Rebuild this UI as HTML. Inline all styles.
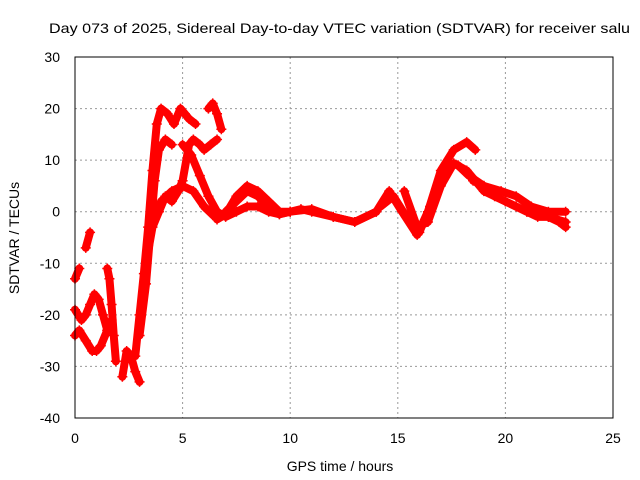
<!DOCTYPE html>
<html><head><meta charset="utf-8"><style>
body{margin:0;background:#fff}
svg{display:block;font-family:"Liberation Sans",sans-serif}
</style></head><body>
<svg id="chart" width="640" height="480" viewBox="0 0 640 480">
<rect width="640" height="480" fill="#fff"/>
<text x="49" y="33" font-size="14" textLength="581" lengthAdjust="spacingAndGlyphs">Day 073 of 2025, Sidereal Day-to-day VTEC variation (SDTVAR) for receiver salu</text>
<g id="grid"></g>
<g id="ticks"></g>
<g id="series"></g>
<rect x="75" y="57" width="538" height="361" fill="none" stroke="#000" stroke-width="1"/>
<text x="340" y="471" font-size="14" text-anchor="middle">GPS time / hours</text>
<text x="0" y="0" font-size="14" text-anchor="middle" transform="translate(19,238) rotate(-90)">SDTVAR / TECUs</text>
</svg>
<script>
const xTicks=[0,5,10,15,20,25];
const yTicks=[-40,-30,-20,-10,0,10,20,30];
const s1T=[0.0,0.2,0.5,0.8,1.0,1.2,1.5,1.7];
const s1V=[-24,-23,-25,-27,-27,-26,-23,-21];
const s2T=[0.0,0.3,0.5,0.7,0.9,1.1,1.3,1.5];
const s2V=[-19,-21,-20,-18,-16,-17,-20,-23];
const s3T=[0.0,0.2];
const s3V=[-13,-11];
const s4T=[0.5,0.7];
const s4V=[-7,-4];
const s5T=[1.5,1.6,1.7,1.8,1.9];
const s5V=[-11,-13,-18,-24,-29];
const s6T=[2.2,2.4,2.6,2.8,3.0];
const s6V=[-32,-27,-28,-31,-33];
const s7T=[2.8,3.0,3.2,3.4,3.6,3.8,4.0,4.3,4.6,4.9,5.1,5.3,5.6];
const s7V=[-28,-20,-12,-3,8,17,20,19,17,20,19,18,17];
const s8T=[3.3,3.6,3.9,4.2,4.5,4.8,5.0,5.3,5.5,5.8,6.0,6.3,6.6];
const s8V=[-10,-3,0,3,2,4,6,13,14,13,12,13,14];
const s9T=[5.0,5.4,5.8,6.2,6.6,7.0,7.5,8.0,8.5,9.0,9.5,10.0];
const s9V=[13,11,7,3,0,-1,0,1,1,0,-0.5,0];
const s10T=[6.2,6.4,6.6,6.8];
const s10V=[20,21,19,16];
const s11T=[3.8,4.0,4.5,5.0,5.5,6.0,6.5];
const s11V=[0,2,4,5,4,1,-1];
const s12T=[6.6,7.0,7.5,8.0,8.5,9.0,9.5,10.0,11.0,12.0,13.0,14.0,14.6,15.2,15.9,16.4,17.0,17.6,18.2,18.6];
const s12V=[-1.5,-0.5,3,5,4,2,0,0,0.5,-1,-2,0,4,0,-4.5,0,8,12,13.5,12];
const s13T=[15.3,15.9,16.4,17.0,17.6,18.2,19.0,20.0,21.0,22.0,22.8];
const s13V=[4,-3,-2,5,9.4,8,4,2,0,-1,-2];
const s14T=[7.0,7.5,8.0,8.5,9.0,9.5,10.0,10.5,11.0,12.0,13.0,14.0];
const s14V=[0,2,4,3,1,-0.5,0,0.5,0,-1,-2,0];
const s15T=[18.5,19.0,19.5,20.0,20.5,21.0,21.5,22.0,22.5,22.8];
const s15V=[6,5,3,2,1,0,-1,-1,-2,-3];
const s16T=[17.8,18.3,19.0,19.8,20.5,21.2,22.0,22.8];
const s16V=[9,7,5,4,3,1,0,0];
const s17T=[3.0,3.3,3.5,3.7,3.9,4.2,4.5];
const s17V=[-24,-14,-4,6,12,14,13];
const s18T=[14.2,14.8,15.4,16.0,16.5,17.0,17.5];
const s18V=[1,3,-1,-4,1,7,9];
const allT=[s1T,s2T,s3T,s4T,s5T,s6T,s7T,s8T,s9T,s10T,s11T,s12T,s13T,s14T,s15T,s16T,s17T,s18T];
const allV=[s1V,s2V,s3V,s4V,s5V,s6V,s7V,s8V,s9V,s10V,s11V,s12V,s13V,s14V,s15V,s16V,s17V,s18V];
const NS="http://www.w3.org/2000/svg";
const L=75,R=613,T=57,B=418;
const X=t=>L+(t-0)/(25-0)*(R-L);
const Y=v=>B-(v+40)/(70)*(B-T);
const grid=document.getElementById('grid'),ticks=document.getElementById('ticks'),ser=document.getElementById('series');
xTicks.forEach(t=>{
 const x=X(t);
 if(t>0&&t<25){const g=document.createElementNS(NS,'line');
 
 
 g.setAttribute('x1',x);g.setAttribute('x2',x);g.setAttribute('y1',T);g.setAttribute('y2',B);
 g.setAttribute('stroke','#999');g.setAttribute('stroke-dasharray','2,3');grid.appendChild(g);}
 const k=document.createElementNS(NS,'text');
 
 
 k.setAttribute('x',x);k.setAttribute('y',443);k.setAttribute('font-size','14');k.setAttribute('text-anchor','middle');
 k.textContent=t;ticks.appendChild(k);
});
yTicks.forEach(v=>{
 const y=Y(v);
 if(v>-40&&v<30){const g=document.createElementNS(NS,'line');
 
 
 g.setAttribute('x1',L);g.setAttribute('x2',R);g.setAttribute('y1',y);g.setAttribute('y2',y);
 g.setAttribute('stroke','#999');g.setAttribute('stroke-dasharray','2,3');grid.appendChild(g);}
 const k=document.createElementNS(NS,'text');
 
 
 k.setAttribute('x',60);k.setAttribute('y',y+5);k.setAttribute('font-size','14');k.setAttribute('text-anchor','end');
 k.textContent=v;ticks.appendChild(k);
});
allT.forEach((ts,i)=>{
 const vs=allV[i];
 const p=document.createElementNS(NS,'polyline');
 
 
 p.setAttribute('points',ts.map((t,j)=>X(t)+','+Y(vs[j])).join(' '));
 p.setAttribute('fill','none');p.setAttribute('stroke','#f00');p.setAttribute('stroke-width','8');
 p.setAttribute('stroke-linejoin','round');p.setAttribute('stroke-linecap','round');
 ser.appendChild(p);
 ts.forEach((t,j)=>{
  const m=document.createElementNS(NS,'path');
  
  
  const x=X(t),y=Y(vs[j]);
  m.setAttribute('d',`M${x-5},${y}H${x+5}M${x},${y-5}V${y+5}`);
  m.setAttribute('stroke','#f00');m.setAttribute('stroke-width','1.5');
  ser.appendChild(m);
 });
});
</script>
</body></html>
